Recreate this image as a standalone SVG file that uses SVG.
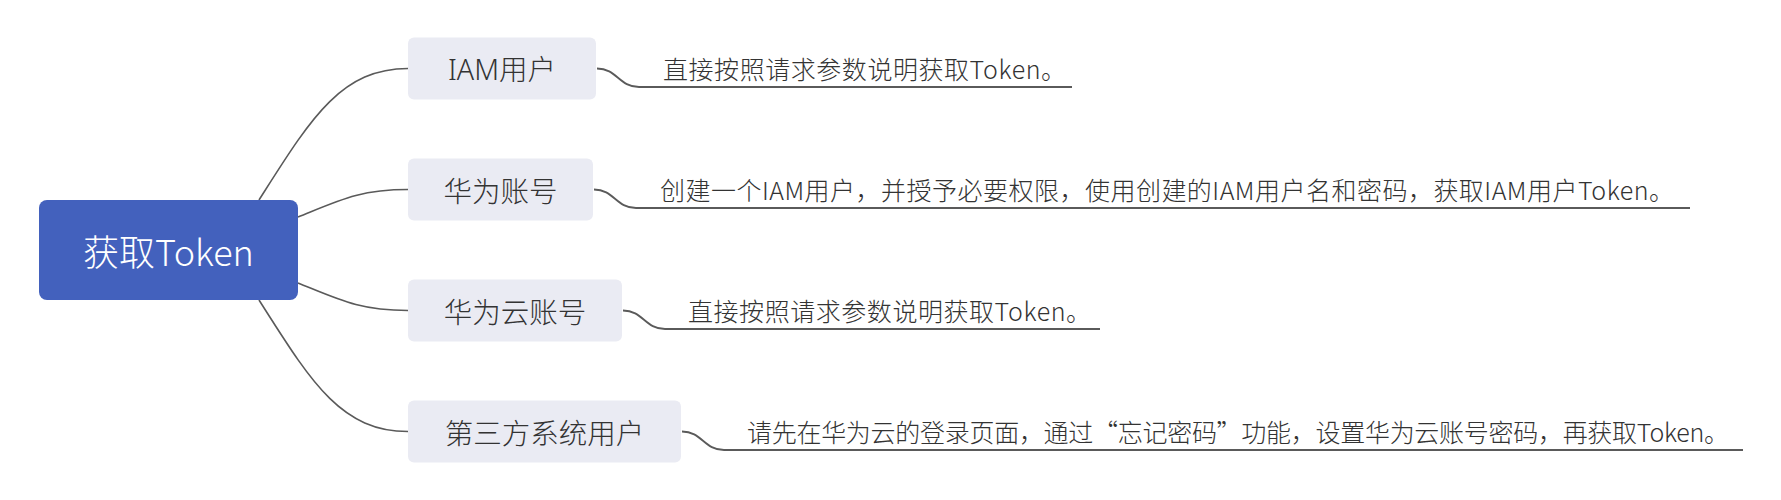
<svg xmlns="http://www.w3.org/2000/svg" width="1781" height="500" viewBox="0 0 1781 500">
<style>
text{font-family:"Noto Sans CJK SC","Noto Sans",sans-serif;font-weight:300}
.root{fill:#4361BD}
.sub{fill:#EAEBF3}
.rt{fill:#fff;font-size:36px}
.st{fill:#333;font-size:28.5px}
.lat{font-family:"Noto Sans","Noto Sans CJK SC",sans-serif}
.nt{fill:#333;font-size:25px}
.c{fill:none;stroke:#5a5a5a;stroke-width:1.6}
.u{fill:none;stroke:#5a5a5a;stroke-width:1.8}
</style>
<rect width="1781" height="500" fill="#fff"/>
<g id="connectors">
<path class="c" d="M259,200 C310,120 340,68.5 408,68.5"/>
<path class="c" d="M298,217 C340,200 360,189.5 408,189.5"/>
<path class="c" d="M298,283 C340,300 360,310.5 408,310.5"/>
<path class="c" d="M259,300 C310,380 340,431.5 408,431.5"/>
<path class="u" d="M597,68.5 C617,68.5 619,87 639,87 H1072"/>
<path class="u" d="M594,189.5 C614,189.5 616,208 636,208 H1690"/>
<path class="u" d="M623,310.5 C643,310.5 645,329 665,329 H1100"/>
<path class="u" d="M682,431.5 C702,431.5 704,450 724,450 H1743"/>
</g>
<g id="root">
<rect class="root" x="39" y="200" width="259" height="100" rx="8"/>
<text class="rt" x="168.5" y="250" text-anchor="middle" dominant-baseline="central">获取Token</text>
</g>
<g id="n1">
<rect class="sub" x="408" y="37.5" width="188" height="62" rx="6"/>
<text class="st lat" x="502" y="68.5" text-anchor="middle" dominant-baseline="central">IAM用户</text>
</g>
<g id="n2">
<rect class="sub" x="408" y="158.5" width="185" height="62" rx="6"/>
<text class="st" x="500.5" y="189.5" text-anchor="middle" dominant-baseline="central">华为账号</text>
</g>
<g id="n3">
<rect class="sub" x="408" y="279.5" width="214" height="62" rx="6"/>
<text class="st" x="515" y="310.5" text-anchor="middle" dominant-baseline="central">华为云账号</text>
</g>
<g id="n4">
<rect class="sub" x="408" y="400.5" width="273" height="62" rx="6"/>
<text class="st" x="544.5" y="431.5" text-anchor="middle" dominant-baseline="central">第三方系统用户</text>
</g>
<g id="d1">
<text class="nt" x="663" y="78.5" textLength="403" lengthAdjust="spacing">直接按照请求参数说明获取Token。</text>
</g>
<g id="d2">
<text class="nt" x="660" y="199.5" textLength="1014" lengthAdjust="spacing">创建一个IAM用户，并授予必要权限，使用创建的IAM用户名和密码，获取IAM用户Token。</text>
</g>
<g id="d3">
<text class="nt" x="688" y="320.5" textLength="403" lengthAdjust="spacing">直接按照请求参数说明获取Token。</text>
</g>
<g id="d4">
<text class="nt" x="747" y="441.5" textLength="982" lengthAdjust="spacing">请先在华为云的登录页面，通过“忘记密码”功能，设置华为云账号密码，再获取Token。</text>
</g>
</svg>
